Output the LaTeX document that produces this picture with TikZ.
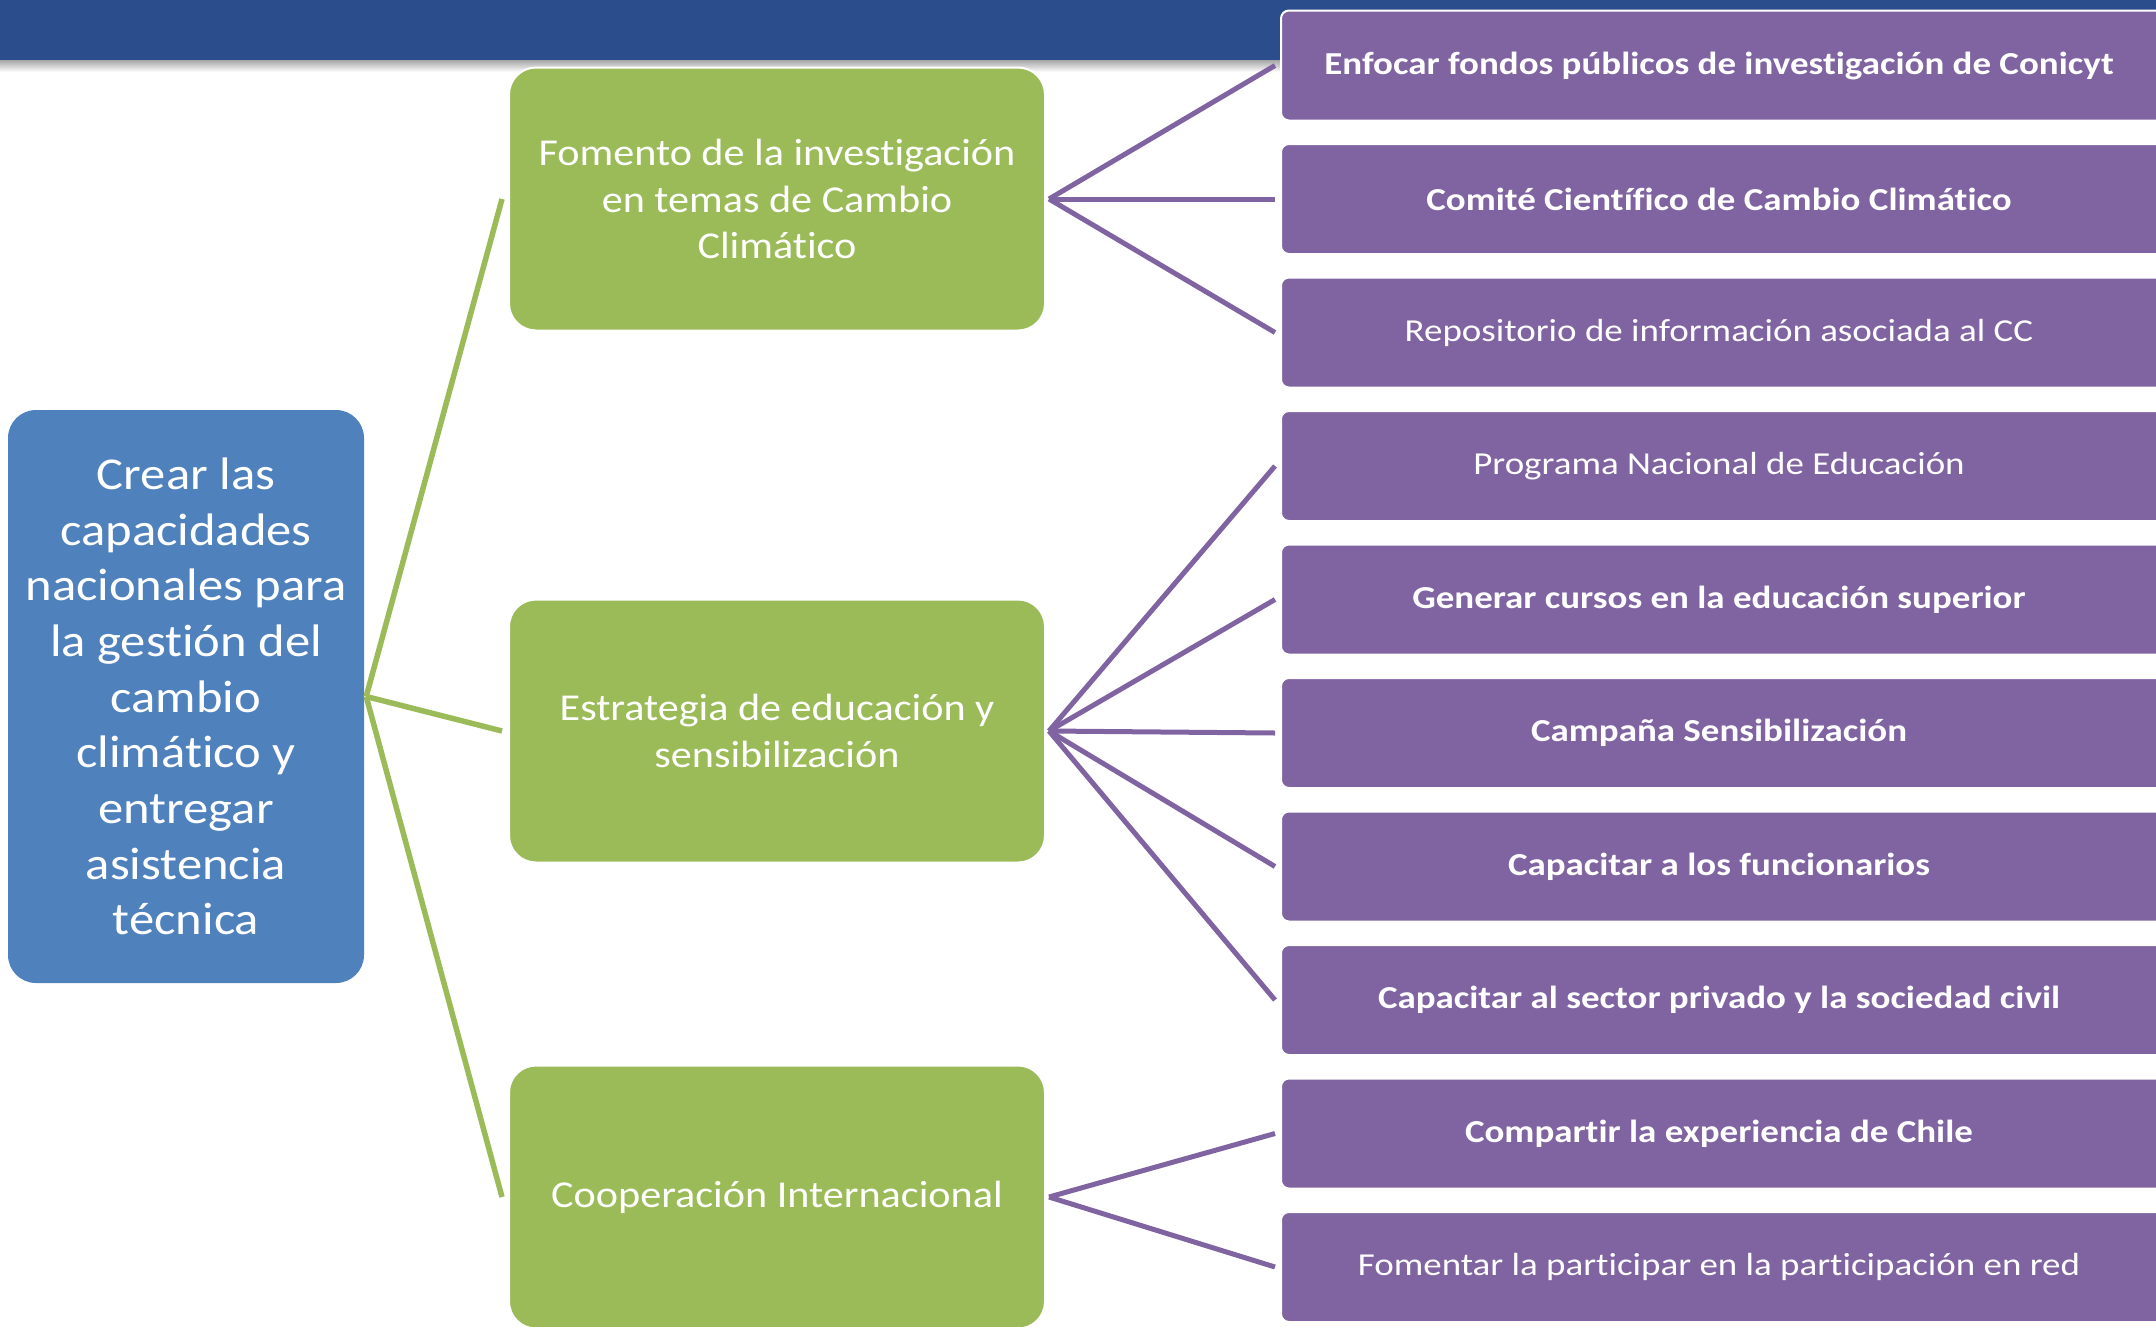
\documentclass[tikz,border=0pt]{standalone}
\usepackage{fontspec}
\setmainfont{Carlito}[FakeStretch=1.11, RawFeature={-liga}]
\newfontfamily\leaffont{Carlito}[FakeStretch=1.155, RawFeature={-liga}]
\definecolor{barblue}{RGB}{44,77,140}
\definecolor{cpurple}{RGB}{128,100,162}
\definecolor{cgreen}{RGB}{155,187,89}
\definecolor{cblue}{RGB}{79,129,189}
\begin{document}
\begin{tikzpicture}[x=1pt,y=-1pt,
  rootbox/.style={fill=cblue, rounded corners=28pt, minimum width=356pt, minimum height=573pt,
    text=white, align=center, inner sep=0pt, font=\fontsize{45.6}{55.7}\selectfont},
  midbox/.style={fill=cgreen, draw=white, line width=2pt, rounded corners=27pt, minimum width=536pt, minimum height=263pt,
    text=white, align=center, inner sep=0pt, font=\fontsize{38}{46.75}\selectfont},
  leafbox/.style={fill=cpurple, draw=white, line width=2pt, rounded corners=8pt, minimum width=890pt, minimum height=110pt,
    inner sep=0pt},
  leaftext/.style={text=white, font=\leaffont\fontsize{32}{38}\selectfont},
  gline/.style={draw=cgreen, line width=5.5pt},
  pline/.style={draw=cpurple, line width=5pt}]
\useasboundingbox (0,0) rectangle (2156,1326);
\clip (0,0) rectangle (2156,1326);
% top bar with shadow
\shade[top color=black!35, bottom color=white] (0,60) rectangle (2156,72);
\fill[barblue] (0,0) rectangle (2156,60);
% root
\node[rootbox] (root) at (186,696.5) {Crear las\\capacidades\\nacionales para\\la gestión del\\cambio\\climático y\\entregar\\asistencia\\técnica};
% middle
\node[midbox] (g1) at (777,199) {Fomento de la investigación\\en temas de Cambio\\Climático};
\node[midbox] (g2) at (777,731) {Estrategia de educación y\\sensibilización};
\node[midbox] (g3) at (777,1197) {Cooperación Internacional};
% leaves
\foreach \i/\t/\b in {0/{Enfocar fondos públicos de investigación de Conicyt}/1,
  1/{Comité Científico de Cambio Climático}/1,
  2/{Repositorio de información asociada al CC}/0,
  3/{Programa Nacional de Educación}/0,
  4/{Generar cursos en la educación superior}/1,
  5/{Campaña Sensibilización}/1,
  6/{Capacitar a los funcionarios}/1,
  7/{Capacitar al sector privado y la sociedad civil}/1,
  8/{Compartir la experiencia de Chile}/1,
  9/{Fomentar la participar en la participación en red}/0}{
  \node[leafbox, anchor=west] (p\i) at (1280,65.5+\i*133.5) {};
  \ifnum\b=1
    \node[leaftext, font=\leaffont\fontsize{32}{38}\selectfont\bfseries] (t\i) at (1719,65.5+\i*133.5) {\t};
  \else
    \node[leaftext] (t\i) at (1719,65.5+\i*133.5) {\t};
  \fi
}
% connectors root -> middle
\foreach \g in {g1,g2,g3}{
  \draw[gline] ([xshift=2pt]root.east) -- ([xshift=-6pt]\g.west);
}
% middle -> leaves
\foreach \g/\p in {g1/p0,g1/p1,g1/p2,g2/p3,g2/p4,g2/p5,g2/p6,g2/p7,g3/p8,g3/p9}{
  \draw[pline] ([xshift=3pt]\g.east) -- ([xshift=-5pt]\p.west);
}
\end{tikzpicture}
\end{document}
